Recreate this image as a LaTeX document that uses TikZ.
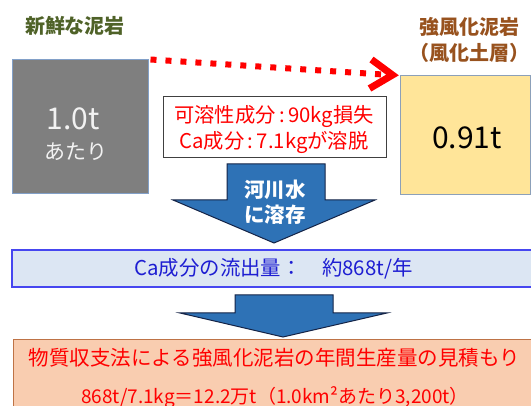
\documentclass[tikz,border=0pt]{standalone}
\usepackage{fontspec}
\setmainfont{Noto Sans CJK JP}
\usetikzlibrary{arrows.meta}
\newcommand\fsz[1]{\fontsize{#1}{#1}\selectfont}
\definecolor{titlegreen}{RGB}{79,98,40}
\definecolor{titlebrown}{RGB}{152,82,30}
\definecolor{rockgray}{RGB}{127,127,127}
\definecolor{rockedge}{RGB}{130,160,200}
\definecolor{soilfill}{RGB}{255,229,153}
\definecolor{soiledge}{RGB}{140,160,185}
\definecolor{arrowblue}{RGB}{46,114,182}
\definecolor{arrowedge}{RGB}{20,35,70}
\definecolor{cafill}{RGB}{220,230,243}
\definecolor{caedge}{RGB}{70,70,240}
\definecolor{catext}{RGB}{30,30,210}
\definecolor{estfill}{RGB}{249,205,176}
\definecolor{estedge}{RGB}{190,115,70}
\definecolor{lossred}{RGB}{255,0,0}
\tikzset{
  titletext/.style={inner sep=0pt, font=\fsz{20}\bfseries},
  rockbox/.style={draw=rockedge, line width=1pt, fill=rockgray, minimum width=136pt, minimum height=134pt, inner sep=0pt},
  soilbox/.style={draw=soiledge, line width=1pt, fill=soilfill, minimum width=130pt, minimum height=119pt, inner sep=0pt},
  lossbox/.style={draw=black!75, line width=0.8pt, fill=white, minimum width=223pt, minimum height=61pt, inner sep=0pt},
  flowarrow/.style={draw=arrowedge, line width=1pt, fill=arrowblue, line join=miter},
  dotline/.style={draw=lossred, line width=6pt, dash pattern=on 6pt off 9pt},
  chevron/.style={draw=lossred, line width=7pt, line join=miter, miter limit=10},
  plain/.style={inner sep=0pt},
}
\begin{document}
\begin{tikzpicture}[x=1pt,y=-1pt]
\clip (0,0) rectangle (531,406);
\fill[white] (0,0) rectangle (531,406);

% titles
\node[titletext, text=titlegreen] (t1) at (75,26) {新鮮な泥岩};
\node[titletext, text=titlebrown] (t2) at (469,27) {強風化泥岩};
\node[titletext, text=titlebrown] (t3) at (469,53) {（風化土層）};

% boxes
\node[rockbox] (rock) at (80,127) {};
\node[plain, text=white!95!black, font=\fsz{30}] (rt1) at (73,119) {1.0t};
\node[plain, text=white!95!black, font=\fsz{21}] (rt2) at (76,152) {あたり};

\node[soilbox] (soil) at (465,135.5) {};
\node[plain, font=\fsz{30}] (st) at (467,138) {0.91t};

\node[lossbox] (loss) at (274.5,126.5) {};
\node[plain, text=lossred, font=\fsz{20.3}] (l1) at (274,117) {可溶性成分\,:\,90kg損失};
\node[plain, text=lossred, font=\fsz{20.3}] (l2) at (274,142) {Ca成分\,:\,7.1kgが溶脱};

% dotted arrow
\coordinate (dstart) at ([xshift=2pt]rock.north east);
\coordinate (dend) at ([xshift=-9pt,yshift=0.5pt]soil.north west);
\draw[dotline] (dstart) -- (dend);
\draw[chevron] ([shift={(-28,-16)}]soil.north west) -- ([shift={(-7,-0.5)}]soil.north west) -- ([shift={(-30,13)}]soil.north west);

% blue arrow 1
\path[flowarrow] (227,164) -- (325,164) -- (325,200) -- (375,200) -- (274,243) -- (173,200) -- (227,200) -- cycle;
\node[plain, text=white, font=\fsz{20.5}\bfseries] (a1) at (275,190) {河川水};
\node[plain, text=white, font=\fsz{20.5}\bfseries] (a2) at (275,215) {に溶存};

% Ca box
\path[draw=caedge, line width=1.3pt, fill=cafill] (12,250) rectangle (545,287);
\node[plain, text=catext, font=\fsz{20.4}] (ca) at (273.5,269) {Ca成分の流出量：　約868t/年};

% blue arrow 2
\path[flowarrow] (235,295) -- (333,295) -- (333,313) -- (387,313) -- (283,337) -- (180,313) -- (235,313) -- cycle;

% estimate box
\path[draw=estedge, line width=1pt, fill=estfill] (13,340) rectangle (545,420);
\node[plain, text=lossred, font=\fsz{20.5}] (e1) at (274.5,358) {物質収支法による強風化泥岩の年間生産量の見積もり};
\node[plain, text=lossred, font=\fsz{19}] (e2) at (275,397) {868t/7.1kg＝12.2万t（1.0km²あたり3,200t）};
\end{tikzpicture}
\end{document}
